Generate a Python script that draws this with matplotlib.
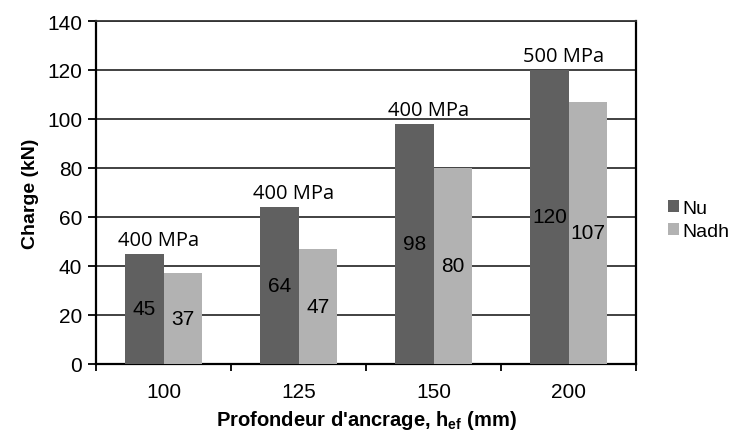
import matplotlib
matplotlib.use("Agg")
import matplotlib.pyplot as plt
import numpy as np

# data
categories = ["100", "125", "150", "200"]
nu = [45, 64, 98, 120]
nadh = [37, 47, 80, 107]
steel = ["400 MPa", "400 MPa", "400 MPa", "500 MPa"]

plt.rcParams['font.family'] = ['Liberation Sans', 'DejaVu Sans']
plt.rcParams['mathtext.fontset'] = 'custom'
plt.rcParams['mathtext.bf'] = 'Liberation Sans:bold'

fig = plt.figure(figsize=(7.32, 4.35), dpi=100)
ax = fig.add_axes([96/732, 1-365/435, 540/732, 343/435])

x = np.arange(len(categories))
w = 0.284
b1 = ax.bar(x - w/2, nu, w, color='#606060', label='Nu', zorder=3)
b2 = ax.bar(x + w/2, nadh, w, color='#b2b2b2', label='Nadh', zorder=3)

for rect, v in zip(list(b1) + list(b2), nu + nadh):
    ax.text(rect.get_x() + rect.get_width()/2, v/2, str(v),
            ha='center', va='center', fontsize=15, color='black', zorder=4)

for i, (s, v) in enumerate(zip(steel, nu)):
    ax.annotate(s, (x[i] - 0.04, v), xytext=(0, 3), textcoords='offset points',
                ha='center', va='bottom', fontsize=14.5, family=['Open Sans', 'DejaVu Sans'])

ax.set_xlim(-0.5, len(categories) - 0.5)
ax.set_ylim(0, 140)
ax.set_yticks(np.arange(0, 141, 20))
ax.set_xticks(x)
ax.set_xticklabels(categories)
ax.set_xticks(np.arange(-0.5, len(categories)), minor=True)
ax.tick_params(axis='x', which='major', length=0, pad=13, labelsize=15)
ax.tick_params(axis='x', which='minor', length=5, width=1.3, direction='out')
ax.tick_params(axis='y', length=6, width=1.3, labelsize=15, pad=4)

ax.grid(axis='y', color='#333333', linewidth=1.3, zorder=0)
for sp in ['left', 'bottom', 'right']:
    ax.spines[sp].set_linewidth(1.6)
    ax.spines[sp].set_color('black')
ax.spines['top'].set_linewidth(1.3)
ax.spines['top'].set_color('#333333')

ax.set_ylabel("Charge (kN)", fontsize=14, fontweight='bold', labelpad=6)
ax.set_xlabel("Profondeur d'ancrage, h$_{\\mathbf{ef}}$ (mm)", fontsize=14.5,
              fontweight='bold', labelpad=5)

fig.legend(handles=[b1, b2], loc='center left', bbox_to_anchor=(668/732, 1-221/435),
           frameon=False, fontsize=14, handlelength=0.55, handleheight=0.55,
           handletextpad=0.2, labelspacing=0.3, borderpad=0, borderaxespad=0)

fig.savefig("out.png", dpi=100)
